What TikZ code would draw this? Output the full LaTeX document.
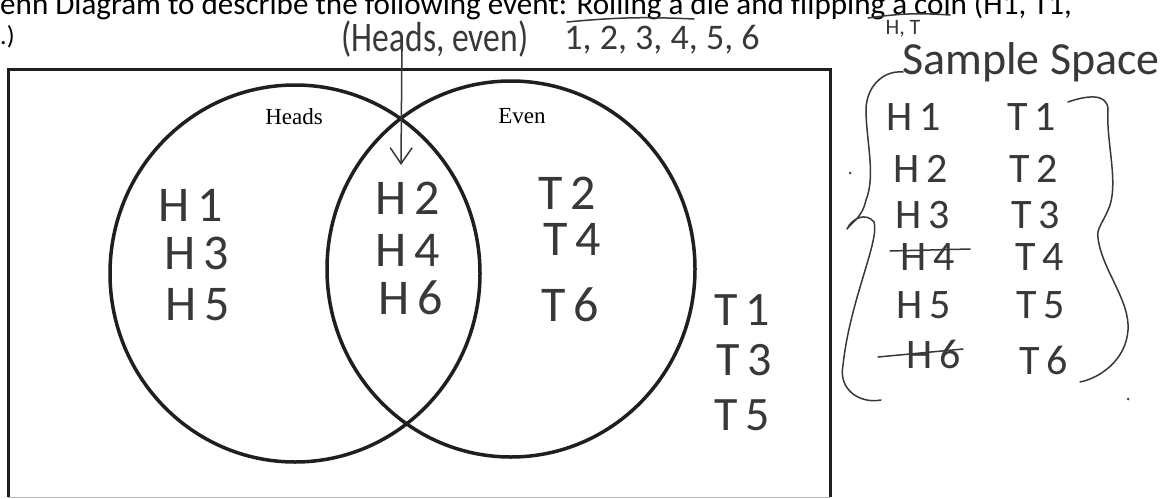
\documentclass[tikz,border=0pt]{standalone}
\usepackage{fontspec}
\setmainfont{Carlito}
\newfontfamily\serif{Liberation Serif}
\newfontfamily\hand[LetterSpace=16]{Carlito}
\newfontfamily\handtight{Carlito}
\usetikzlibrary{arrows.meta,shapes.geometric}
\begin{document}
\begin{tikzpicture}[x=1pt,y=-1pt,
  venn/.style={ellipse, draw=black!88, line width=3.5pt, inner sep=0pt},
  typed/.style={inner sep=0pt, font=\serif\fontsize{23}{27}\selectfont},
  hw/.style={inner sep=0pt, text=black!78, font=\hand\fontsize{#1}{#1}\selectfont},
  hwt/.style={inner sep=0pt, text=black!78, font=\handtight\fontsize{#1}{#1}\selectfont},
  ink/.style={line width=1.5pt, draw=black!78, line cap=round, line join=round},
  frame/.style={line width=3pt, draw=black!88}]
\useasboundingbox (0,0) rectangle (1174,498);
\fill[white] (0,0) rectangle (1174,498);

% title lines
\node[anchor=base west, inner sep=0pt] (title) at (0,14)
  {\resizebox{1072pt}{!}{\fontsize{26}{31}\selectfont enn Diagram to describe the following event: Rolling a die and flipping a coin (H1, T1,}};
\node[anchor=base west, inner sep=0pt] (title2) at (0,44) {\fontsize{26}{31}\selectfont .)};

% frame
\coordinate (bl) at (8,497);
\coordinate (tl) at (8,69);
\coordinate (tr) at (830,69);
\coordinate (br) at (830,497);
\draw[frame] (bl) -- (tl) -- (tr) -- (br);
\draw[gray!55, line width=1pt] (bl) -- (br);

% venn circles
\node[venn, minimum width=370pt, minimum height=377pt] (heads) at (295,273.5) {};
\node[venn, minimum width=368pt, minimum height=376pt] (even) at (511,269) {};
\node[typed] (headslbl) at (294,117) {Heads};
\node[typed] (evenlbl) at (522,116) {Even};

% handwritten annotations at top
\node[hwt=42] (annot) at (435,39) {\scalebox{0.8}[1]{(Heads, even)}};
\coordinate (arrtop) at (402,36);
\coordinate (arrtip) at (401,165);
\draw[ink, -{Straight Barb[length=16pt,width=22pt,line width=1.5pt]}] (arrtop) -- (arrtip);

\node[hwt=36] (die) at (662,40) {1, 2, 3, 4, 5, 6};
\coordinate (dieA) at (567,22);
\coordinate (dieB) at (694,19);
\draw[ink] (dieA) to[bend left=4] (dieB);
\node[hwt=22] (coin) at (903,29) {H, T};
\coordinate (coinA) at (868,18);
\coordinate (coinB) at (950,15);
\draw[ink] (coinA) to[bend left=6] (coinB);

% venn entries
\node[hw=50] (h1) at (191,205) {H1};
\node[hw=50] (h3) at (197,253) {H3};
\node[hw=50] (h5) at (198,305) {H5};
\node[hw=50] (h2) at (408,198) {H2};
\node[hw=50] (h4) at (408,250) {H4};
\node[hw=50] (h6) at (411,298) {H6};
\node[hw=50] (t2) at (567,193) {T2};
\node[hw=50] (t4) at (572,239) {T4};
\node[hw=50] (t6) at (570,305) {T6};
\node[hw=48] (t1) at (742,310) {T1};
\node[hw=48] (t3) at (744,360) {T3};
\node[hw=48] (t5) at (742,415) {T5};

% sample space
\node[hwt=46] (ss) at (1031,62) {Sample Space};
\node[hw=42] (s1) at (914,117) {H1};
\node[hw=42] (s2) at (921,169) {H2};
\node[hw=42] (s3) at (923,215) {H3};
\node[hw=42] (s4) at (928,257) {H4};
\node[hw=42] (s5) at (924,305) {H5};
\node[hw=42] (s6) at (934,354) {H6};
\node[hw=42] (u1) at (1032,117) {T1};
\node[hw=42] (u2) at (1034,169) {T2};
\node[hw=42] (u3) at (1036,215) {T3};
\node[hw=42] (u4) at (1040,257) {T4};
\node[hw=42] (u5) at (1041,305) {T5};
\node[hw=42] (u6) at (1044,360) {T6};
% strikes
\coordinate (k4a) at (890,251);
\coordinate (k4b) at (970,249);
\draw[ink] (k4a) -- (k4b);
\coordinate (k6a) at (878,357);
\coordinate (k6b) at (963,349);
\draw[ink] (k6a) -- (k6b);

% left brace
\coordinate (lb0) at (903,72);
\coordinate (lb1) at (866,110);
\coordinate (lb2) at (866,200);
\coordinate (lb3) at (847,229);
\coordinate (lb4) at (874,222);
\coordinate (lb5) at (843,365);
\coordinate (lb6) at (881,400);
\draw[ink] (lb0) .. controls (882,70) and (866,88) .. (lb1)
  .. controls (866,140) and (876,175) .. (lb2)
  .. controls (862,218) and (852,222) .. (lb3)
  .. controls (852,218) and (866,212) .. (lb4)
  .. controls (880,240) and (850,300) .. (lb5)
  .. controls (838,390) and (860,404) .. (lb6);

% right brace
\coordinate (rb0) at (1068,102);
\coordinate (rb1) at (1108,110);
\coordinate (rb2) at (1110,205);
\coordinate (rb3) at (1098,238);
\coordinate (rb4) at (1128,330);
\coordinate (rb5) at (1080,382);
\draw[ink] (rb0) .. controls (1085,96) and (1108,92) .. (rb1)
  .. controls (1106,140) and (1118,180) .. (rb2)
  .. controls (1104,222) and (1096,228) .. (rb3)
  .. controls (1102,270) and (1130,300) .. (rb4)
  .. controls (1126,360) and (1100,378) .. (rb5);

% stray dots
\coordinate (d1) at (850,173);
\coordinate (d2) at (1128,399);
\fill[black!70] (d1) circle[radius=1.5pt];
\fill[black!70] (d2) circle[radius=1.5pt];
\end{tikzpicture}
\end{document}
